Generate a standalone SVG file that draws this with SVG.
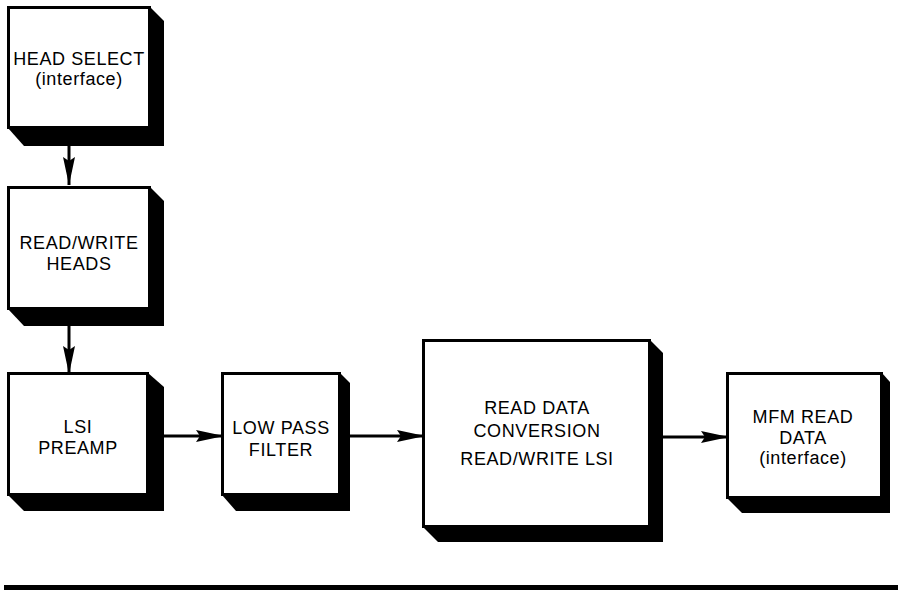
<svg xmlns="http://www.w3.org/2000/svg" width="898" height="590" viewBox="0 0 898 590">
<style>
.face{fill:#fff;stroke:#000;stroke-width:3}
.shd{fill:#000}
.t{font-family:"Liberation Sans",Arial,sans-serif;font-size:18px;fill:#000;text-anchor:middle;letter-spacing:0.6px}
.c{stroke:#000;stroke-width:3;fill:none}
</style>
<defs>
<marker id="ah" markerUnits="userSpaceOnUse" markerWidth="30" markerHeight="14" refX="28" refY="6" orient="auto">
<path d="M0,0 L28,6 L0,12 L4,6 Z" fill="#000"/>
</marker>
</defs>
<rect width="898" height="590" fill="#fff"/>
<g id="connectors">
<line class="c" x1="69" y1="146" x2="69" y2="185" marker-end="url(#ah)"/>
<line class="c" x1="69" y1="326" x2="69" y2="374" marker-end="url(#ah)"/>
<line class="c" x1="163" y1="436" x2="224" y2="436" marker-end="url(#ah)"/>
<line class="c" x1="348" y1="436" x2="425" y2="436" marker-end="url(#ah)"/>
<line class="c" x1="662" y1="437" x2="729" y2="437" marker-end="url(#ah)"/>
</g>
<g id="head-select">
<polygon class="shd" points="150,7 164,21 164,146 24,146 8,128"/>
<rect class="face" x="8.5" y="7.5" width="141" height="120"/>
<text class="t" x="79" y="65">HEAD SELECT</text>
<text class="t" x="79" y="85">(interface)</text>
</g>
<g id="read-write-heads">
<polygon class="shd" points="150,187 164,201 164,326 24,326 8,309"/>
<rect class="face" x="8.5" y="187.5" width="141" height="121"/>
<text class="t" x="79" y="249">READ/WRITE</text>
<text class="t" x="79" y="270">HEADS</text>
</g>
<g id="lsi-preamp">
<polygon class="shd" points="148,373 164,387 164,511 24,511 8,495"/>
<rect class="face" x="8.5" y="373.5" width="139" height="121"/>
<text class="t" x="78" y="433">LSI</text>
<text class="t" x="78" y="454">PREAMP</text>
</g>
<g id="low-pass-filter">
<polygon class="shd" points="340,373 350,383 350,511 236,511 222,495"/>
<rect class="face" x="222.5" y="373.5" width="117" height="121"/>
<text class="t" x="281" y="434">LOW PASS</text>
<text class="t" x="281" y="456">FILTER</text>
</g>
<g id="read-data-conversion">
<polygon class="shd" points="650,340 663,353 663,542 438,542 423,527"/>
<rect class="face" x="423.5" y="340.5" width="226" height="186"/>
<text class="t" x="537" y="414">READ DATA</text>
<text class="t" x="537" y="437">CONVERSION</text>
<text class="t" x="537" y="465">READ/WRITE LSI</text>
</g>
<g id="mfm-read-data">
<polygon class="shd" points="882,373 890,382 890,513 742,513 727,498"/>
<rect class="face" x="727.5" y="373.5" width="154" height="124"/>
<text class="t" x="803" y="423">MFM READ</text>
<text class="t" x="803" y="444">DATA</text>
<text class="t" x="803" y="464">(interface)</text>
</g>
<rect x="4" y="585" width="894" height="5" fill="#000"/>
</svg>
